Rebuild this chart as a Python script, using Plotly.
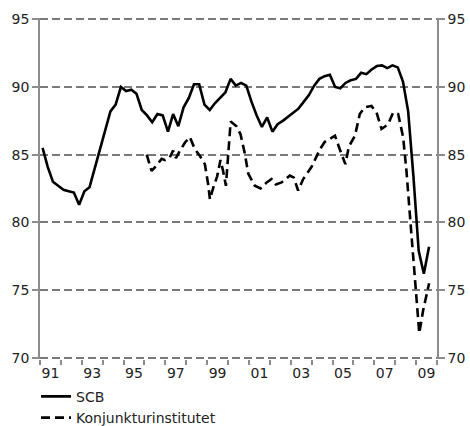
import plotly.graph_objects as go
import pandas as pd

# SCB, quarterly from 1991Q1
scb_values = [85.5, 84.1, 83.0, 82.7, 82.4, 82.3, 82.2, 81.3, 82.3, 82.6,
              84.0, 85.3, 86.8, 88.2, 88.7, 90.0, 89.7, 89.8, 89.5, 88.3,
              87.9, 87.4, 88.0, 87.9, 86.7, 88.0, 87.1, 88.5, 89.2, 90.2,
              90.2, 88.7, 88.3, 88.8, 89.2, 89.6, 90.6, 90.1, 90.3, 90.1,
              88.9, 87.9, 87.05, 87.75, 86.7, 87.25, 87.5, 87.8, 88.1, 88.4,
              88.9, 89.4, 90.1, 90.6, 90.8, 90.9, 90.0, 89.9, 90.3, 90.5,
              90.6, 91.05, 90.95, 91.3, 91.55, 91.6, 91.4, 91.6, 91.45, 90.4,
              88.2, 83.4, 77.9, 76.2, 78.2]
scb_dates = [p.start_time + pd.Timedelta(days=45)
             for p in pd.period_range("1991Q1", periods=len(scb_values), freq="Q")]

# Konjunkturinstitutet
ki_dates = ["1996-02-10", "1996-05-04", "1996-08-01", "1996-10-28", "1996-12-25",
            "1997-03-19", "1997-05-16", "1997-07-04", "1997-09-13", "1997-12-10",
            "1998-03-04", "1998-06-01", "1998-08-28", "1998-11-22", "1999-01-19",
            "1999-02-19", "1999-04-28", "1999-06-25", "1999-08-22", "1999-10-07",
            "1999-11-25", "2000-01-04", "2000-02-16", "2000-05-28", "2000-08-07",
            "2000-10-22", "2000-12-19", "2001-04-13", "2001-07-22", "2001-11-07",
            "2002-02-01", "2002-04-16", "2002-07-25", "2002-12-16", "2003-02-25",
            "2003-05-10", "2003-08-07", "2004-01-01", "2004-05-25", "2004-08-19",
            "2005-02-13", "2005-05-07", "2005-08-13", "2005-10-13", "2006-01-28",
            "2006-04-22", "2006-07-19", "2006-11-13", "2007-02-10", "2007-05-07",
            "2007-09-01", "2007-11-25", "2008-02-22", "2008-05-19", "2008-07-16",
            "2008-09-13", "2008-11-10", "2008-12-28", "2009-02-25", "2009-05-04",
            "2009-08-16"]
ki_values = [85.0, 83.8, 84.2, 84.7, 84.6,
             84.8, 85.3, 84.75, 85.3, 85.9,
             86.3, 85.4, 84.9, 84.3, 82.8,
             81.7, 82.7, 83.4, 84.6, 83.8,
             82.7, 85.05, 87.45, 87.1, 86.5,
             85.05, 83.6, 82.7, 82.5, 82.95,
             83.2, 82.8, 82.95, 83.45, 83.3,
             82.35, 83.2, 84.1, 85.4, 85.95,
             86.4, 85.4, 84.3, 85.6, 86.4,
             88.0, 88.5, 88.6, 88.1, 86.9,
             87.25, 88.1, 88.0, 86.3, 83.8,
             80.6, 77.45, 75.25, 71.8, 73.5,
             75.5]

year_labels = ["91", "93", "95", "97", "99", "01", "03", "05", "07", "09"]
label_years = [1991, 1993, 1995, 1997, 1999, 2001, 2003, 2005, 2007, 2009]
y_ticks = [70, 75, 80, 85, 90, 95]

FONT = "DejaVu Sans"
GRID = "#7a7a7a"
AXIS = "#8c8c8c"
X_RANGE = ["1991-01-01", "2010-01-01"]
Y_RANGE = [69.9, 95.1]

fig = go.Figure()
fig.add_trace(go.Scatter(x=scb_dates, y=scb_values, mode="lines", name="SCB",
                         line=dict(color="black", width=2.6),
                         xaxis="x", yaxis="y"))
fig.add_trace(go.Scatter(x=ki_dates, y=ki_values, mode="lines",
                         name="Konjunkturinstitutet",
                         line=dict(color="black", width=2.6, dash="9px,5px"),
                         xaxis="x2", yaxis="y2"))

fig.update_layout(
    width=470, height=426,
    margin=dict(l=40, r=33, t=17.6, b=66.6, autoexpand=False),
    paper_bgcolor="white", plot_bgcolor="white",
    font=dict(family=FONT, size=14, color="#222222"),
    showlegend=True,
    legend=dict(x=-0.01, y=-0.064, xanchor="left", yanchor="top",
                orientation="v", bgcolor="rgba(0,0,0,0)",
                font=dict(family=FONT, size=14, color="#222222"),
                tracegroupgap=0, itemwidth=30),
    xaxis=dict(
        type="date", range=X_RANGE,
        tickvals=[f"{y}-07-02" for y in label_years],
        ticktext=year_labels,
        ticks="", ticklabelstandoff=4,
        showgrid=False, zeroline=False, showline=False,
        automargin=False,
        tickfont=dict(size=14),
    ),
    xaxis2=dict(
        type="date", range=X_RANGE, overlaying="x", anchor="y", side="bottom",
        dtick="M12", tick0="1991-01-01",
        ticks="outside", ticklen=5, tickwidth=1.5, tickcolor=AXIS,
        showticklabels=False,
        showgrid=False, zeroline=False, showline=False, automargin=False,
    ),
    yaxis=dict(
        range=Y_RANGE, tickvals=y_ticks,
        showgrid=True, gridcolor=GRID, gridwidth=1.6, griddash="8px,4px",
        zeroline=False, automargin=False,
        showline=True, linecolor=AXIS, linewidth=1.5,
        ticks="outside", ticklen=6, tickwidth=1.5, tickcolor=AXIS,
        tickfont=dict(size=14),
    ),
    yaxis2=dict(
        range=Y_RANGE, tickvals=y_ticks, overlaying="y", side="right",
        anchor="x",
        showgrid=False, zeroline=False, automargin=False,
        showline=True, linecolor=AXIS, linewidth=1.5,
        ticks="outside", ticklen=6, tickwidth=1.5, tickcolor=AXIS,
        tickfont=dict(size=14),
    ),
)

fig.write_html(
    "out.html",
    config={"displayModeBar": False},
    post_script="document.body.style.margin='0';document.body.style.overflow='hidden';",
)
